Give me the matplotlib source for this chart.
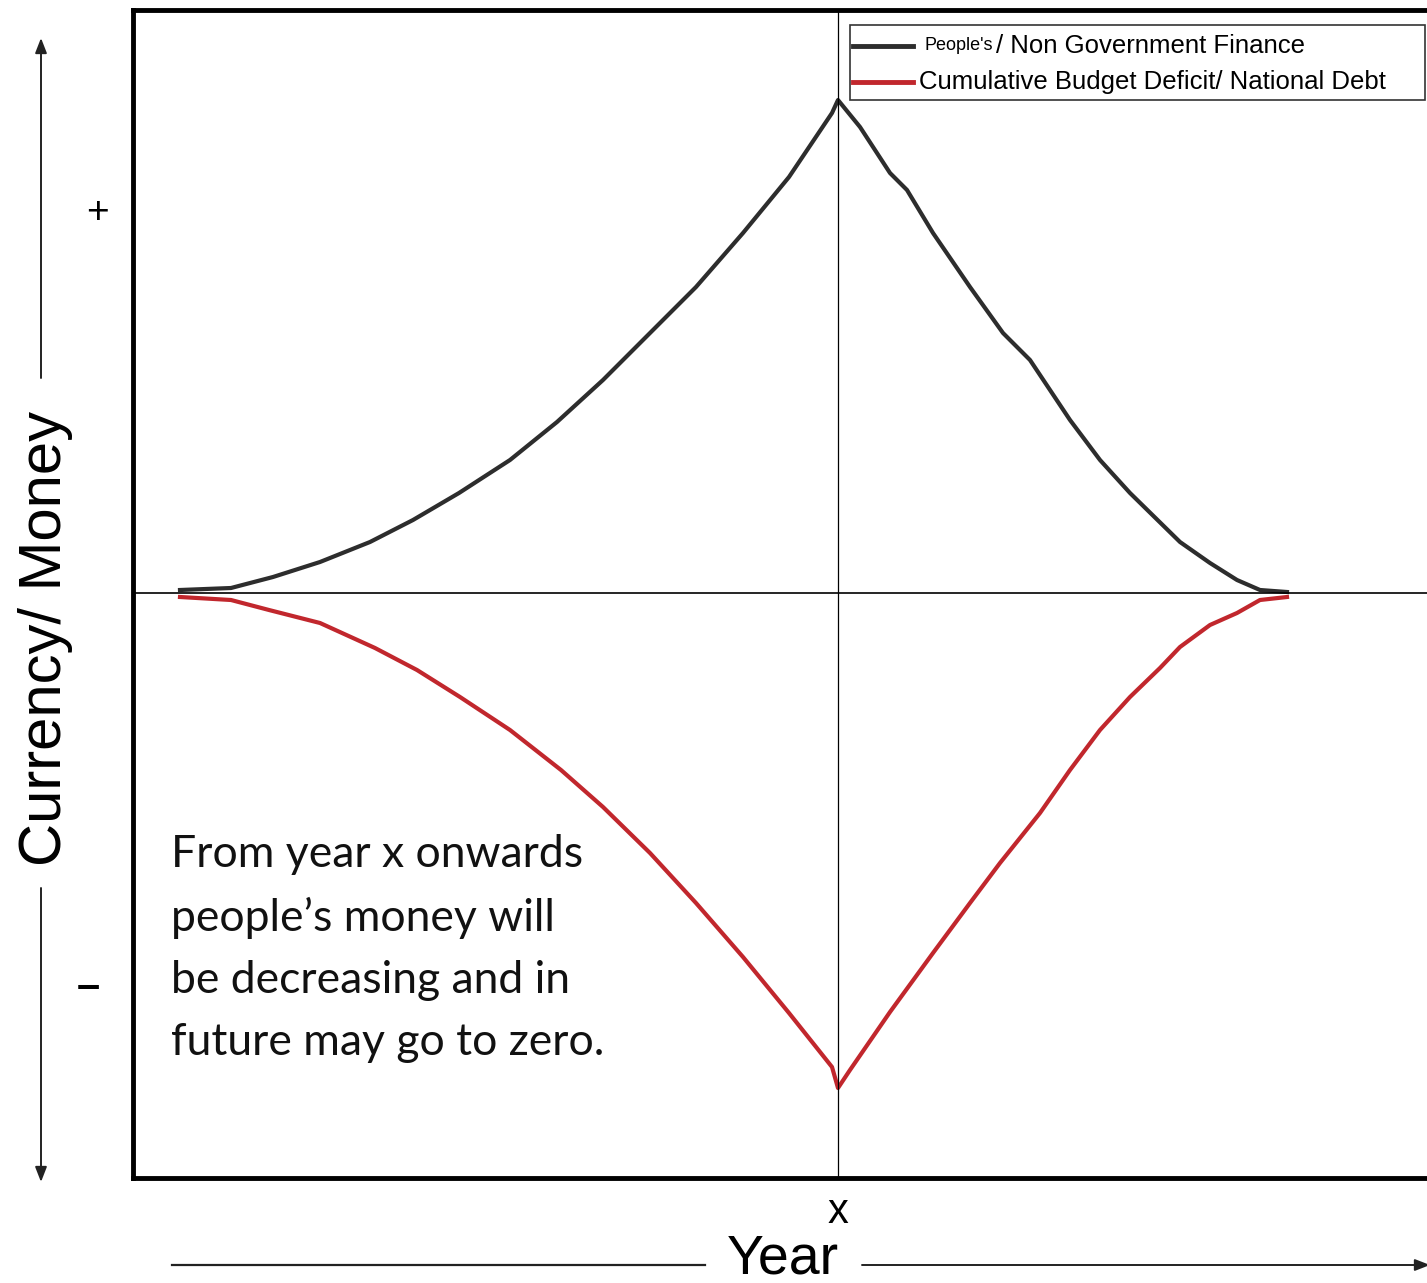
import numpy as np
import matplotlib
matplotlib.use('Agg')
import matplotlib.pyplot as plt
from matplotlib.lines import Line2D
from matplotlib.patches import Rectangle

#%% data (arbitrary units)

# people's / non government finance
yrsPeople = [0, 5.1, 9.3, 14, 19, 23.3, 27.9, 33, 37.7, 42.3, 47, 51.6, 56.3, 60.9, 65.2, 65.8,
             68, 71, 72.7, 75.3, 79, 82.3, 85, 89, 92, 95, 100, 103, 105.7, 108, 110.7]
valPeople = [0.3, 0.5, 1.6, 3.1, 5.1, 7.3, 10, 13.3, 17.1, 21.3, 26, 30.6, 36, 41.6, 48, 49.3,
             46.6, 42, 40.3, 36, 30.6, 26, 23.3, 17.3, 13.3, 10, 5.1, 3, 1.3, 0.3, 0.1]

# cumulative budget deficit / national debt
yrsDebt = [0, 5.1, 8.9, 14, 19.5, 23.7, 28, 33, 38.1, 42.3, 47, 51.6, 56.3, 60.9, 65.2, 65.8,
           67, 71, 75.3, 79, 82, 86, 89, 92, 95, 98, 100, 103, 105.7, 108, 110.7]
valDebt = [-0.4, -0.7, -1.7, -3, -5.5, -7.7, -10.4, -13.7, -17.7, -21.4, -26, -31, -36.4, -42, -47.4, -49.5,
           -47.7, -41.9, -36, -31, -27, -22, -17.7, -13.7, -10.4, -7.5, -5.4, -3.2, -2, -0.7, -0.4]

yearX = 65.8
labels = ["/ Non Government Finance", "Cumulative Budget Deficit/ National Debt"]
note = "From year x onwards\npeople\u2019s money will\nbe decreasing and in\nfuture may go to zero."

#%% helpers

W, H = 1427, 1283


def fpx(x, y):
    # pixel of the picture -> figure fraction
    return x / W, 1 - y / H


#%% plot
def main():
    sans = ['Liberation Sans', 'DejaVu Sans']
    fig = plt.figure(figsize=(W / 100, H / 100), dpi=100)
    ax = fig.add_axes([133 / W, 105 / H, (1441 - 133) / W, (1178 - 10) / H])

    ax.plot(yrsPeople, valPeople, color='#2d2d2d', lw=3, solid_joinstyle='round')
    ax.plot(yrsDebt, valDebt, color='#c1272d', lw=3, solid_joinstyle='round')
    ax.axhline(0, color='black', lw=1.2)
    ax.axvline(yearX, color='black', lw=0.9)

    ax.set_xlim(-4.7, 126.1)
    ax.set_ylim(-58.5, 58.3)
    ax.set_xticks([])
    ax.set_yticks([])
    for s in ['left', 'top', 'bottom']:
        ax.spines[s].set_linewidth(3.5)
    ax.spines['right'].set_visible(False)

    # legend built by hand (mixed font sizes)
    x0, y0 = fpx(850, 100)
    x1, y1 = fpx(1425, 25)
    fig.add_artist(Rectangle((x0, y0), x1 - x0, y1 - y0, transform=fig.transFigure,
                             fill=False, lw=1.2, ec='#333333'))
    for yy, col in [(46, '#2d2d2d'), (82, '#c1272d')]:
        a, b = fpx(853, yy)
        c, _ = fpx(913, yy)
        fig.add_artist(Line2D([a, c], [b, b], transform=fig.transFigure, color=col, lw=3.5))
    t = fig.text(*fpx(924, 46), "People's", fontsize=13, family=sans, va='center')
    fig.canvas.draw()
    ext = t.get_window_extent()
    fig.text(ext.x1 / W + 3 / W, 1 - 46 / H, labels[0], fontsize=18.5, family=sans, va='center')
    fig.text(*fpx(919, 82), labels[1], fontsize=18.5, family=sans, va='center')

    # note
    ax.text(*fpx(171, 834), note, transform=fig.transFigure, fontsize=32,
            family=['Lato', 'DejaVu Sans'], va='top', ha='left', linespacing=1.64,
            color='#111111')

    # y axis label and arrows
    fig.text(*fpx(46, 638), "Currency/ Money", rotation=90, fontsize=43, family=sans,
             ha='center', va='center')
    fig.text(*fpx(97, 213), "+", fontsize=28, family=sans, ha='center', va='center')
    fig.text(*fpx(88, 987), "\u2013", fontsize=30, family=sans, ha='center', va='center',
             fontweight='bold')
    arr = dict(arrowstyle='-|>,head_length=0.9,head_width=0.35', color='#222222', lw=1.4,
               shrinkA=0, shrinkB=0)
    ax.annotate('', xy=fpx(41, 38), xytext=fpx(41, 378), xycoords='figure fraction',
                textcoords='figure fraction', arrowprops=arr, annotation_clip=False)
    ax.annotate('', xy=fpx(41, 1182), xytext=fpx(41, 888), xycoords='figure fraction',
                textcoords='figure fraction', arrowprops=arr, annotation_clip=False)

    # x axis label and arrow
    fig.text(*fpx(838, 1212), "x", fontsize=30, family=sans, ha='center', va='center')
    fig.text(*fpx(783, 1259), "Year", fontsize=40, family=sans, ha='center', va='center')
    fig.add_artist(Line2D([172 / W, 705 / W], [1 - 1265 / H] * 2, transform=fig.transFigure,
                          color='#222222', lw=1.6))
    ax.annotate('', xy=fpx(1430, 1265), xytext=fpx(862, 1265), xycoords='figure fraction',
                textcoords='figure fraction', arrowprops=arr, annotation_clip=False)

    fig.savefig('out.png', dpi=100)


if __name__ == '__main__':
    main()
